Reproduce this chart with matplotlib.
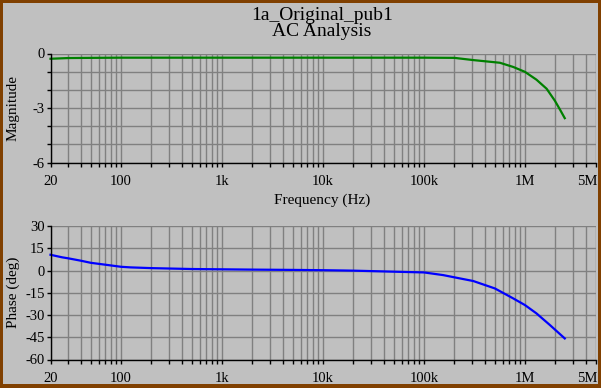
import matplotlib
matplotlib.use("Agg")
import matplotlib.pyplot as plt
from matplotlib.patches import Rectangle
from matplotlib.transforms import ScaledTranslation

# ---- data ----
freq_mag = [20, 30, 50, 100, 1e3, 1e4, 1e5, 2e5, 3.05e5, 5.65e5, 7.65e5, 1e6, 1.3e6, 1.64e6, 1.98e6, 2.21e6, 2.48e6]
mag_db = [-0.29, -0.25, -0.24, -0.23, -0.23, -0.23, -0.23, -0.24, -0.36, -0.51, -0.74, -1.01, -1.44, -1.94, -2.6, -3.06, -3.56]

freq_ph = [20, 26, 30, 40, 50, 70, 100, 124, 200, 500, 1e3, 2e3, 5e3, 1e4, 2e4, 5.8e4, 1e5, 1.55e5, 2e5, 3.08e5, 5.04e5, 7.65e5, 1e6, 1.3e6, 1.77e6, 2.48e6]
phase_deg = [10.6, 8.9, 8.2, 6.6, 5.2, 3.9, 2.5, 2.1, 1.6, 1.0, 0.8, 0.6, 0.4, 0.2, -0.1, -0.9, -1.3, -3.1, -4.6, -7.1, -12.1, -18.8, -23.3, -28.9, -36.8, -45.8]

grid_freqs = [20, 30, 40, 50, 60, 70, 80, 90,
              100, 200, 300, 400, 500, 600, 700, 800, 900,
              1e3, 2e3, 3e3, 4e3, 5e3, 6e3, 7e3, 8e3, 9e3,
              1e4, 2e4, 3e4, 4e4, 5e4, 6e4, 7e4, 8e4, 9e4,
              1e5, 2e5, 3e5, 4e5, 5e5, 6e5, 7e5, 8e5, 9e5,
              1e6, 2e6, 3e6, 4e6, 5e6]
label_freqs = {20: "20", 100: "100", 1e3: "1k", 1e4: "10k", 1e5: "100k", 1e6: "1M", 5e6: "5M"}

mag_ticks = [0, -1, -2, -3, -4, -5, -6]
mag_labels = ["0", "", "", "-3", "", "", "-6"]
ph_ticks = [30, 15, 0, -15, -30, -45, -60]
ph_labels = ["30", "15", "0", "-15", "-30", "-45", "-60"]

title1 = "1a_Original_pub1"
title2 = "AC Analysis"

# ---- figure ----
W, H = 601, 388
BG = "#c0c0c0"
GRID = "#808080"
BORDER = "#804000"
FONT = "Liberation Serif"

fig = plt.figure(figsize=(W / 100, H / 100), dpi=100, facecolor=BG)


def px_axes(x0, y0, x1, y1):
    return fig.add_axes([x0 / W, 1 - y1 / H, (x1 - x0) / W, (y1 - y0) / H])


def style(ax, yticks, ylabels, ylim):
    ax.set_facecolor(BG)
    ax.set_xscale("log")
    ax.set_xlim(20, 5e6)
    ax.set_ylim(*ylim)
    ax.set_xticks(grid_freqs)
    ax.set_xticks([], minor=True)
    ax.set_xticklabels([label_freqs.get(f, "") for f in grid_freqs])
    ax.set_yticks(yticks)
    ax.set_yticklabels(ylabels)
    for s in ("top", "right"):
        ax.spines[s].set_visible(False)
    for s in ("left", "bottom"):
        ax.spines[s].set_color("black")
        ax.spines[s].set_linewidth(1.0)
    ax.grid(True, color=GRID, linewidth=1.0)
    ax.set_axisbelow(True)
    ax.tick_params(axis="x", direction="out", length=3, width=1, pad=6,
                   labelsize=10.5, colors="black")
    ax.tick_params(axis="y", direction="out", length=3, width=1, pad=1,
                   labelsize=10.5, colors="black")
    for lab in ax.get_xticklabels() + ax.get_yticklabels():
        lab.set_fontfamily(FONT)
    last = ax.get_xticklabels()[-1]
    last.set_horizontalalignment("right")
    last.set_transform(last.get_transform() + ScaledTranslation(2 / 100, 0, fig.dpi_scale_trans))


ax1 = px_axes(50.5, 53.5, 595.5, 162.5)
style(ax1, mag_ticks, mag_labels, (-6, 0))
ax1.plot(freq_mag, mag_db, color="#008000", linewidth=1.6, clip_on=False)

ax2 = px_axes(50.5, 226, 595.5, 359.5)
style(ax2, ph_ticks, ph_labels, (-60, 30))
ax2.plot(freq_ph, phase_deg, color="#0000ff", linewidth=1.6, clip_on=False)

fig.text(322 / W, 1 - 19.5 / H, title1, ha="center", va="baseline",
         fontsize=14, family=FONT)
fig.text(322 / W, 1 - 36.5 / H, title2, ha="center", va="baseline",
         fontsize=14, family=FONT)
fig.text(322.5 / W, 1 - 204 / H, "Frequency (Hz)", ha="center", va="baseline",
         fontsize=11, family=FONT)
fig.text(13 / W, 1 - 108 / H, "Magnitude", ha="center", va="center",
         rotation=90, fontsize=11, family=FONT)
fig.text(13 / W, 1 - 292.5 / H, "Phase (deg)", ha="center", va="center",
         rotation=90, fontsize=11, family=FONT)

# border
for (x, y, w, h) in [(0, 0, 2.5, H), (0, 0, W, 2.5), (598, 0, 3, H), (0, 384, W, 4)]:
    fig.patches.append(Rectangle((x / W, 1 - (y + h) / H), w / W, h / H,
                                 transform=fig.transFigure, facecolor=BORDER,
                                 edgecolor="none", zorder=10))

fig.savefig("out.png", dpi=100, facecolor=BG)
